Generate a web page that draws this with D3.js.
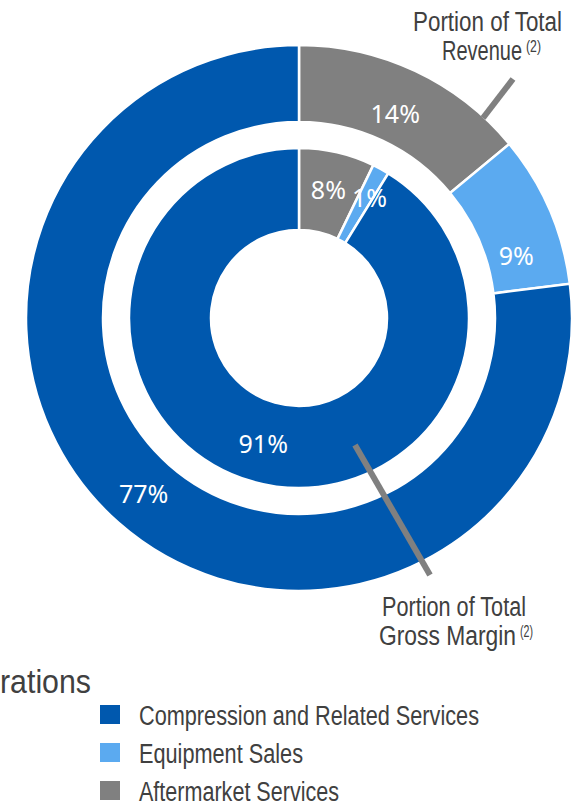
<!DOCTYPE html>
<html>
<head>
<meta charset="utf-8">
<script src="https://cdn.jsdelivr.net/npm/d3@7"></script>
<style>
  html, body { margin: 0; padding: 0; background: #fff; overflow: hidden; }
  svg { display: block; }
</style>
</head>
<body>
<div id="diagram"></div>
<script>
// data
const segments = ['Compression and Related Services', 'Equipment Sales', 'Aftermarket Services'];
const revenueShare = [77, 9, 14];        // outer ring, portion of total revenue
const marginShare = [91.2, 1.6, 7.2];    // inner ring, portion of total gross margin
const revenueLabels = ['77%', '9%', '14%'];
const marginLabels = ['91%', '1%', '8%'];

!(function () {
  let
    width = 576,
    height = 804,
    cx = 299,
    cy = 318,
    color = d3.scaleOrdinal()
      .domain(segments)
      .range(['#0058AE', '#5BAAF0', '#808080']),
    sans = '"Liberation Sans", Arial, sans-serif',
    pctFont = '"Noto Sans", "Open Sans", sans-serif';

  const svg = d3.select('#diagram')
    .append('svg')
    .attr('width', width)
    .attr('height', height)
    .attr('viewBox', '0 0 ' + width + ' ' + height);

  // no narrow face installed, so squeeze the text to the width it has in the picture
  function fit(sel, w) {
    sel.attr('textLength', w).attr('lengthAdjust', 'spacingAndGlyphs');
  }

  // slices go clockwise from 12 o'clock: aftermarket, equipment, compression
  const pie = d3.pie()
    .sort(null)
    .value(d => d.v);

  const order = [2, 1, 0];

  function ring(values, labels, r0, r1, labelR, tweak) {
    const rows = order.map(i => ({ key: segments[i], v: values[i], label: labels[i], i: i }));
    const arcs = pie(rows);
    const arc = d3.arc().innerRadius(r0).outerRadius(r1);
    const g = svg.append('g').attr('transform', 'translate(' + cx + ',' + cy + ')');

    g.selectAll('path')
      .data(arcs)
      .enter()
      .append('path')
      .attr('d', arc)
      .style('fill', d => color(d.data.key))
      .style('stroke', 'white')
      .style('stroke-width', 2.5);

    g.selectAll('text')
      .data(arcs)
      .enter()
      .append('text')
      .attr('transform', function (d) {
        let t = tweak[d.data.i] || {};
        let a = (d.startAngle + d.endAngle) / 2 + (t.da || 0);
        let r = t.r || labelR;
        let p = d3.arc().innerRadius(r).outerRadius(r).centroid({ startAngle: a, endAngle: a });
        return 'translate(' + p[0] + ',' + p[1] + ')';
      })
      .attr('text-anchor', 'middle')
      .attr('dy', '0.36em')
      .style('font-family', pctFont)
      .style('font-size', '25px')
      .style('fill', 'white')
      .text(d => d.data.label);
  }

  ring(revenueShare, revenueLabels, 196, 273, 226, { 0: { r: 235 }, 1: { da: 0.13 } });
  ring(marginShare, marginLabels, 88, 170, 131, { 1: { da: 0.03, r: 139 } });

  // leader lines
  const lines = [
    [[483, 118], [513, 79]],
    [[355, 445], [430, 575]]
  ];
  svg.selectAll('line.leader')
    .data(lines)
    .enter()
    .append('line')
    .attr('class', 'leader')
    .attr('x1', d => d[0][0])
    .attr('y1', d => d[0][1])
    .attr('x2', d => d[1][0])
    .attr('y2', d => d[1][1])
    .style('stroke', '#808080')
    .style('stroke-width', 6);

  // callout captions: left x, baseline, widths of the pieces
  function caption(x1, y, w1, l1, x2, w2, l2, ws) {
    const g = svg.append('g')
      .style('font-family', sans)
      .style('font-size', '27px')
      .style('fill', '#404040');
    g.append('text')
      .attr('x', x1)
      .attr('y', y)
      .text(l1)
      .call(fit, w1);
    g.append('text')
      .attr('x', x2)
      .attr('y', y + 29)
      .text(l2)
      .call(fit, w2);
    g.append('text')
      .attr('x', x2 + w2 + 4)
      .attr('y', y + 21)
      .style('font-size', '16px')
      .text('(2)')
      .call(fit, ws);
  }
  caption(413, 31, 149, 'Portion of Total', 442, 80, 'Revenue', 15);
  caption(382, 616, 144, 'Portion of Total', 379, 137, 'Gross Margin', 13);

  // clipped heading on the left
  svg.append('text')
    .attr('x', 0)
    .attr('y', 693)
    .style('font-family', sans)
    .style('font-size', '34px')
    .style('fill', '#404040')
    .text('rations')
    .call(fit, 91);

  // legend
  const legendWidths = [340, 164, 200];
  const leg = svg.selectAll('g.leg')
    .data(segments)
    .enter()
    .append('g')
    .attr('class', 'leg')
    .attr('transform', (d, i) => 'translate(100,' + (705 + i * 38) + ')');
  leg.append('rect')
    .attr('width', 20)
    .attr('height', 19)
    .style('fill', d => color(d));
  leg.append('text')
    .attr('x', 39)
    .attr('y', 20)
    .style('font-family', sans)
    .style('font-size', '27px')
    .style('fill', '#404040')
    .text(d => d)
    .each(function (d, i) { d3.select(this).call(fit, legendWidths[i]); });
}());
</script>
</body>
</html>
